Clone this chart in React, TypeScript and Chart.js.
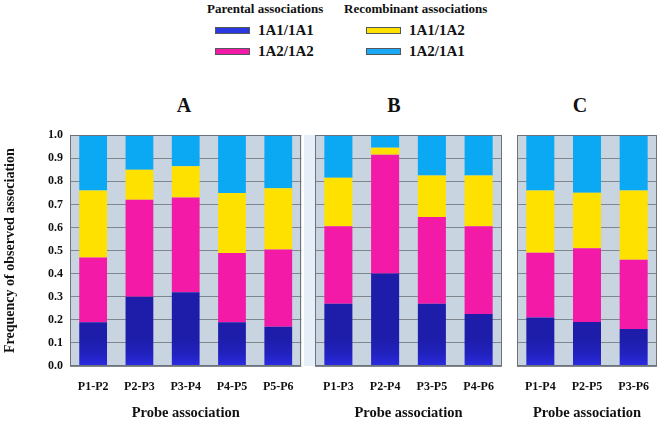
import React, { useEffect, useRef } from "react";
import { Chart, registerables } from "chart.js";
Chart.register(...registerables);

const seriesNames = ["1A1/1A1", "1A2/1A2", "1A1/1A2", "1A2/1A1"];
const seriesColors = ["#1f1fb0", "#f21aa6", "#ffe100", "#0ba9f3"];
const legendColors = ["#2a3ae0", "#f21aa6", "#ffe100", "#1aaaf5"];

const catsA = ["P1-P2", "P2-P3", "P3-P4", "P4-P5", "P5-P6"];
const a11A = [0.19, 0.3, 0.32, 0.19, 0.17];
const a22A = [0.28, 0.42, 0.41, 0.3, 0.335];
const a12A = [0.29, 0.13, 0.135, 0.26, 0.265];
const a21A = [0.24, 0.15, 0.135, 0.25, 0.23];

const catsB = ["P1-P3", "P2-P4", "P3-P5", "P4-P6"];
const a11B = [0.27, 0.4, 0.27, 0.225];
const a22B = [0.335, 0.515, 0.375, 0.38];
const a12B = [0.21, 0.03, 0.18, 0.22];
const a21B = [0.185, 0.055, 0.175, 0.175];

const catsC = ["P1-P4", "P2-P5", "P3-P6"];
const a11C = [0.21, 0.19, 0.16];
const a22C = [0.28, 0.32, 0.3];
const a12C = [0.27, 0.24, 0.3];
const a21C = [0.24, 0.25, 0.24];

const yMin = 0;
const yMax = 1;
const yStep = 0.1;
const yTitle = "Frequency of observed association";
const xTitle = "Probe association";

const FONT = "'Liberation Serif', 'Times New Roman', Times, 'DejaVu Serif', serif";

const plotBg = {
  id: "plotBg",
  beforeDraw(chart: any) {
    const { ctx, chartArea: a } = chart;
    ctx.save();
    ctx.fillStyle = "#c8d4e0";
    ctx.fillRect(a.left, a.top, a.right - a.left, a.bottom - a.top);
    ctx.restore();
  },
  afterDraw(chart: any) {
    const { ctx, chartArea: a } = chart;
    ctx.save();
    ctx.strokeStyle = "#6c737b";
    ctx.lineWidth = 1;
    ctx.strokeRect(Math.round(a.left) + 0.5, Math.round(a.top) + 0.5, Math.round(a.right - a.left) - 1, Math.round(a.bottom - a.top) - 1);
    ctx.restore();
  },
};

function blueFill(c: any) {
  const chart = c.chart;
  const a = chart.chartArea;
  if (!a) return seriesColors[0];
  const g = chart.ctx.createLinearGradient(0, a.bottom, 0, a.top);
  g.addColorStop(0, "#2c2ce2");
  g.addColorStop(0.05, "#2222c0");
  g.addColorStop(0.12, "#1d1daa");
  g.addColorStop(1, "#1d1da8");
  return g;
}

type PanelProps = {
  cats: string[];
  series: number[][];
  showY: boolean;
  left: number;
  top: number;
  width: number;
  height: number;
  padTop: number;
  padLeft: number;
  padRight: number;
};

function Panel({ cats, series, showY, left, top, width, height, padTop, padLeft, padRight }: PanelProps) {
  const ref = useRef<HTMLCanvasElement | null>(null);
  useEffect(() => {
    if (!ref.current) return;
    const chart = new Chart(ref.current, {
      type: "bar",
      data: {
        labels: cats,
        datasets: series.map((vals, i) => ({
          label: seriesNames[i],
          data: vals,
          backgroundColor: i === 0 ? blueFill : seriesColors[i],
          borderWidth: 0,
          barPercentage: 0.6,
          categoryPercentage: 1.0,
        })),
      },
      options: {
        responsive: false,
        animation: false,
        layout: { padding: { top: padTop, left: padLeft, right: padRight, bottom: 0 } },
        plugins: { legend: { display: false }, tooltip: { enabled: false }, title: { display: false } },
        scales: {
          x: {
            stacked: true,
            grid: { display: false, drawTicks: false },
            border: { display: false },
            ticks: { color: "#111", font: { family: FONT, size: 12, weight: "bold" }, padding: 14, maxRotation: 0 },
            title: { display: true, text: xTitle, color: "#111", font: { family: FONT, size: 14.5, weight: "bold" }, padding: { top: 4, bottom: 3 } },
            afterFit: (s: any) => { s.height = 59; },
          },
          y: {
            stacked: true,
            min: yMin,
            max: yMax,
            grid: { color: "#80868e", lineWidth: 1, drawTicks: false },
            border: { display: false },
            ticks: {
              display: showY,
              stepSize: yStep,
              padding: 7,
              color: "#111",
              font: { family: FONT, size: 12, weight: "bold" },
              callback: (v: any) => Number(v).toFixed(1),
            },
            title: { display: showY, text: yTitle, color: "#111", font: { family: FONT, size: 14, weight: "bold" }, padding: { top: 2, bottom: 0 } },
            afterFit: (s: any) => { s.width = showY ? 70 : 0; },
          },
        },
      } as any,
      plugins: [plotBg],
    });
    return () => chart.destroy();
  }, []);
  return (
    <canvas
      ref={ref}
      width={width}
      height={height}
      style={{ position: "absolute", left, top, width, height }}
    />
  );
}

const txt = (extra: any) => ({
  position: "absolute" as const,
  fontFamily: FONT,
  fontWeight: "bold" as const,
  color: "#111",
  whiteSpace: "nowrap" as const,
  ...extra,
});

export default function App() {
  useEffect(() => {
    document.body.style.margin = "0";
  }, []);
  return (
    <div style={{ position: "fixed", left: 0, top: 0, width: 666, height: 425, background: "#fff", overflow: "hidden" }}>
      <div style={txt({ left: 207, top: 1, fontSize: 13, lineHeight: "15px" })}>Parental associations</div>
      <div style={txt({ left: 344, top: 1, fontSize: 13, lineHeight: "15px" })}>Recombinant associations</div>
      {[0, 1, 2, 3].map((i) => {
        const col = i < 2 ? 0 : 1;
        const row = i % 2;
        const sx = col === 0 ? 215 : 366;
        const tx = col === 0 ? 258 : 409;
        const cy = row === 0 ? 30 : 51;
        return (
          <React.Fragment key={i}>
            <div style={{ position: "absolute", left: sx, top: cy - 3, width: 33, height: 5, background: legendColors[i], border: "1px solid #55555c" }} />
            <div style={txt({ left: tx, top: cy - 9, fontSize: 15, lineHeight: "18px" })}>{seriesNames[i]}</div>
          </React.Fragment>
        );
      })}
      <div style={txt({ left: 164, width: 40, textAlign: "center", top: 93, fontSize: 20, lineHeight: "24px" })}>A</div>
      <div style={txt({ left: 374, width: 40, textAlign: "center", top: 93, fontSize: 20, lineHeight: "24px" })}>B</div>
      <div style={txt({ left: 560, width: 40, textAlign: "center", top: 93, fontSize: 20, lineHeight: "24px" })}>C</div>
      <div style={{ position: "absolute", left: 304, top: 135, width: 11, height: 231, background: "#e6eef7" }} />
      <Panel cats={catsA} series={[a11A, a22A, a12A, a21A]} showY={true} left={0} top={121} width={308} height={304} padTop={10} padLeft={0} padRight={4} />
      <Panel cats={catsB} series={[a11B, a22B, a12B, a21B]} showY={false} left={308} top={125} width={202} height={300} padTop={10} padLeft={7} padRight={8} />
      <Panel cats={catsC} series={[a11C, a22C, a12C, a21C]} showY={false} left={510} top={125} width={156} height={300} padTop={10} padLeft={6} padRight={9} />
    </div>
  );
}
